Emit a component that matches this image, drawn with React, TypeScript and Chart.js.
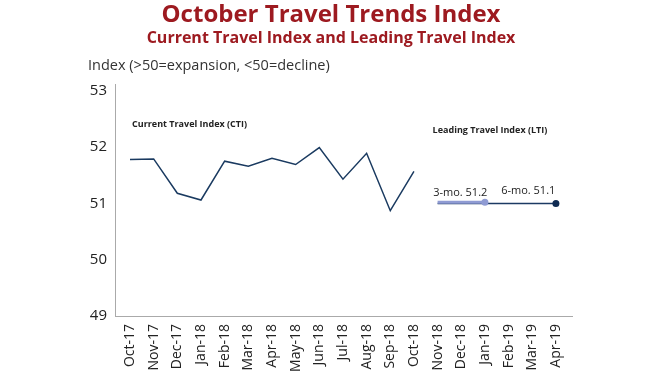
import React, { useEffect, useRef } from "react";
import { Chart, registerables } from "chart.js";
Chart.register(...registerables);

const months = ["Oct-17","Nov-17","Dec-17","Jan-18","Feb-18","Mar-18","Apr-18","May-18","Jun-18","Jul-18","Aug-18","Sep-18","Oct-18","Nov-18","Dec-18","Jan-19","Feb-19","Mar-19","Apr-19"];
const ctiValues = [51.78, 51.79, 51.18, 51.06, 51.75, 51.66, 51.80, 51.69, 51.99, 51.43, 51.89, 50.87, 51.57, null, null, null, null, null, null];
const lti3Values = [null, null, null, null, null, null, null, null, null, null, null, null, null, 51.02, 51.02, 51.02, null, null, null];
const lti6Values = [null, null, null, null, null, null, null, null, null, null, null, null, null, 51.0, 51.0, 51.0, 51.0, 51.0, 51.0];
const yTicks = [49, 50, 51, 52, 53];
const yMin = 49;
const yMax = 53.12;

const TITLE = "October Travel Trends Index";
const SUBTITLE = "Current Travel Index and Leading Travel Index";
const Y_TITLE = "Index (>50=expansion, <50=decline)";
const FONT = "'Open Sans', sans-serif";
const RED = "#9d1a20";

const textPlugin = {
  id: "texts",
  afterDraw(chart: any) {
    const ctx = chart.ctx;
    const x = chart.scales.x;
    const y = chart.scales.y;
    ctx.save();
    ctx.textBaseline = "middle";
    ctx.fillStyle = RED;
    ctx.textAlign = "center";
    ctx.font = `bold 24px ${FONT}`;
    ctx.fillText(TITLE, 331, 15);
    ctx.font = `bold 16px ${FONT}`;
    ctx.fillText(SUBTITLE, 331, 38);
    ctx.fillStyle = "#333";
    ctx.textAlign = "left";
    ctx.font = `14.5px ${FONT}`;
    ctx.fillText(Y_TITLE, 88, 66);
    ctx.fillStyle = "#222";
    ctx.font = `bold 9px ${FONT}`;
    ctx.fillText("Current Travel Index (CTI)", x.getPixelForValue(0) + 2, y.getPixelForValue(52.41));
    ctx.fillText("Leading Travel Index (LTI)", x.getPixelForValue(13) - 5, y.getPixelForValue(52.29));
    ctx.font = `11px ${FONT}`;
    ctx.textAlign = "center";
    ctx.fillText("3-mo. 51.2", x.getPixelForValue(14) - 1, y.getPixelForValue(51.18));
    ctx.fillText("6-mo. 51.1", x.getPixelForValue(17) - 4, y.getPixelForValue(51.23));
    ctx.restore();
  },
};

export default function App() {
  const ref = useRef<HTMLCanvasElement>(null);
  useEffect(() => {
    const chart = new Chart(ref.current!, {
      type: "line",
      data: {
        labels: months.map((_, i) => i),
        datasets: [
          {
            data: lti3Values,
            borderColor: "#8f9bd3",
            backgroundColor: "#8f9bd3",
            borderWidth: 3,
            pointRadius: lti3Values.map((v, i) => (i === 15 ? 3.5 : 0)),
            pointBorderWidth: 0,
            order: 0,
          },
          {
            data: lti6Values,
            borderColor: "#1c3a63",
            backgroundColor: "#0f2b52",
            borderWidth: 1.5,
            pointRadius: lti6Values.map((v, i) => (i === 18 ? 3.5 : 0)),
            pointBorderWidth: 0,
            order: 1,
          },
          {
            data: ctiValues,
            borderColor: "#1a3a60",
            borderWidth: 1.5,
            pointRadius: 0,
            tension: 0,
            order: 2,
          },
        ],
      },
      options: {
        responsive: false,
        animation: false,
        layout: { padding: { left: 80, top: 84, right: 89, bottom: 0 } },
        plugins: { legend: { display: false }, title: { display: false }, tooltip: { enabled: false } },
        scales: {
          x: {
            type: "linear",
            min: -0.634,
            max: 18.68,
            grid: { display: false, drawTicks: false },
            border: { display: true, color: "#aaa", width: 1 },
            afterBuildTicks: (s: any) => { s.ticks = months.map((_, i) => ({ value: i })); },
            ticks: {
              autoSkip: false,
              maxRotation: 90,
              minRotation: 90,
              padding: 8,
              color: "#222",
              font: { family: FONT, size: 14 },
              callback: (v: any) => months[v] ?? "",
            },
            afterFit: (s: any) => { s.height = 60; },
          },
          y: {
            min: yMin,
            max: yMax,
            grid: { display: false, drawTicks: false },
            border: { display: true, color: "#aaa", width: 1 },
            afterBuildTicks: (s: any) => { s.ticks = yTicks.map((v) => ({ value: v })); },
            ticks: {
              padding: 8,
              color: "#222",
              font: { family: FONT, size: 15 },
            },
            afterFit: (s: any) => { s.width = 35; },
          },
        },
      },
      plugins: [textPlugin],
    });
    return () => chart.destroy();
  }, []);
  return (
    <div style={{ position: "absolute", left: 0, top: 0, width: 661, height: 376, background: "#fff" }}>
      <canvas ref={ref} width={661} height={376} />
    </div>
  );
}
